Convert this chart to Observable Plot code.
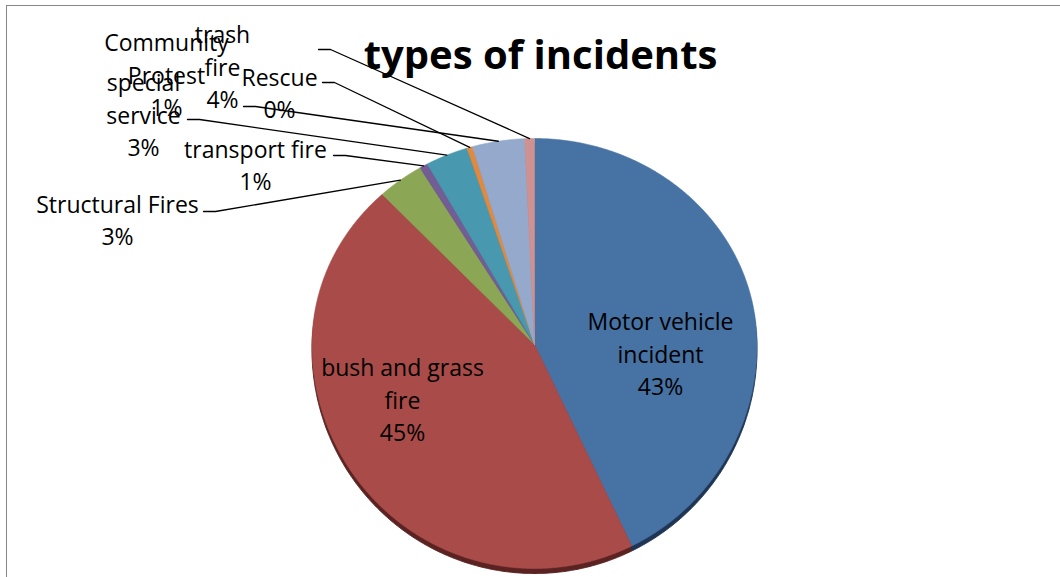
<!DOCTYPE html>
<html><head><meta charset="utf-8">
<script src="https://cdn.jsdelivr.net/npm/d3@7"></script>
<script src="https://cdn.jsdelivr.net/npm/@observablehq/plot@0.6"></script>
<style>
html,body{margin:0;padding:0;background:#fff;}
#wrap{position:relative;width:1060px;height:577px;overflow:hidden;}
#border{position:absolute;left:6px;top:5px;width:1100px;height:620px;border-left:1px solid #878787;border-top:1px solid #878787;}
#chart{position:absolute;left:0;top:0;}
</style></head><body>
<div id="wrap"><div id="border"></div><div id="chart"></div></div>
<script>
// ---- data ----
const title = "types of incidents";
const categories = ["Motor vehicle incident", "bush and grass fire", "Structural Fires", "transport fire", "special service", "Rescue", "trash fire", "Community Protest"];
const shares = [42.8, 45.2, 3.4, 0.6, 3.1, 0.4, 3.8, 0.7];
const percentLabels = ["43%", "45%", "3%", "1%", "3%", "0%", "4%", "1%"];
const labelLines = [["Motor vehicle", "incident"], ["bush and grass", "fire"], ["Structural Fires"], ["transport fire"], ["special", "service"], ["Rescue"], ["trash", "fire"], ["Community", "Protest"]];

// ---- style / layout ----
const colors = ["#4672a4", "#a94b49", "#8ba655", "#725d94", "#4898b0", "#e1893c", "#94a9cc", "#cf9292"];
const sideColors = ["#1f3553", "#5a2321", "#45542a", "#392e4a", "#244c58", "#70451e", "#4a5566", "#674949"];
const centerPx = [534, 344];
const radiusX = 222.5, radiusTop = 206, radiusBottom = 224;
// label block centres, pixel offsets from pie centre (x right, y down)
const labelAt = [[126, 8], [-132, 54], [-417, -126], [-279, -181], [-391, -231], [-255, -253], [-312, -279], [-368, -271]];
// leader line starts (pixel offsets from pie centre), null = label inside
const leaderStart = [null, null, [-331, -133], [-201, -189], [-347, -225], [-212, -262], [-291, -238], [-216, -295]];
const elbow = 12;
const W = 1060, H = 577;

const rows = categories.map((c, i) => ({name: c, share: shares[i], i}));
const arcs = d3.pie().sort(null).value(d => d.share)(rows);

function rim(a) {
  const c = Math.cos(a);
  return [radiusX * Math.sin(a), c * (c >= 0 ? radiusTop : radiusBottom)];
}
function polygon(arc) {
  const pts = [{x: 0, y: 0}];
  const n = Math.max(2, Math.ceil((arc.endAngle - arc.startAngle) / 0.005));
  for (let k = 0; k <= n; k++) {
    const a = arc.startAngle + (arc.endAngle - arc.startAngle) * k / n;
    const [x, y] = rim(a);
    pts.push({x, y});
  }
  pts.push({x: 0, y: 0});
  return pts;
}

const sliceMarks = [];
arcs.forEach((arc, i) => {
  sliceMarks.push(Plot.line(polygon(arc), {x: "x", y: "y", fill: sideColors[i], stroke: sideColors[i], strokeWidth: 1, dy: 5, curve: "linear"}));
});
arcs.forEach((arc, i) => {
  sliceMarks.push(Plot.line(polygon(arc), {x: "x", y: "y", fill: colors[i], stroke: colors[i], strokeWidth: 0.6, curve: "linear"}));
});

const leaders = [];
arcs.forEach((arc, i) => {
  const s = leaderStart[i];
  if (!s) return;
  const mid = (arc.startAngle + arc.endAngle) / 2;
  const [ex, ey] = rim(mid);
  leaders.push({k: i, x: s[0], y: -s[1]});
  leaders.push({k: i, x: s[0] + elbow, y: -s[1]});
  leaders.push({k: i, x: ex, y: ey});
});

const labels = arcs.map((arc, i) => ({
  x: labelAt[i][0], y: -labelAt[i][1],
  text: labelLines[i].concat([percentLabels[i]]).join("\n")
}));

const chart = Plot.plot({
  width: W, height: H,
  margin: 0,
  x: {domain: [-centerPx[0], W - centerPx[0]], axis: null},
  y: {domain: [centerPx[1] - H, centerPx[1]], axis: null},
  style: {fontFamily: "'Open Sans', sans-serif", background: "transparent", overflow: "visible"},
  marks: [
    ...sliceMarks,
    Plot.line(leaders, {x: "x", y: "y", z: "k", stroke: "#000", strokeWidth: 1.3}),
    Plot.text(labels, {x: "x", y: "y", text: "text", fontSize: 23, lineHeight: 1.41, lineAnchor: "middle", textAnchor: "middle", fill: "#000"}),
    Plot.text([title], {frameAnchor: "top", dx: 10, dy: 56, lineAnchor: "middle", textAnchor: "middle", fontSize: 40, fontWeight: "bold", fill: "#000"})
  ]
});
document.getElementById("chart").appendChild(chart);
</script>
</body></html>
